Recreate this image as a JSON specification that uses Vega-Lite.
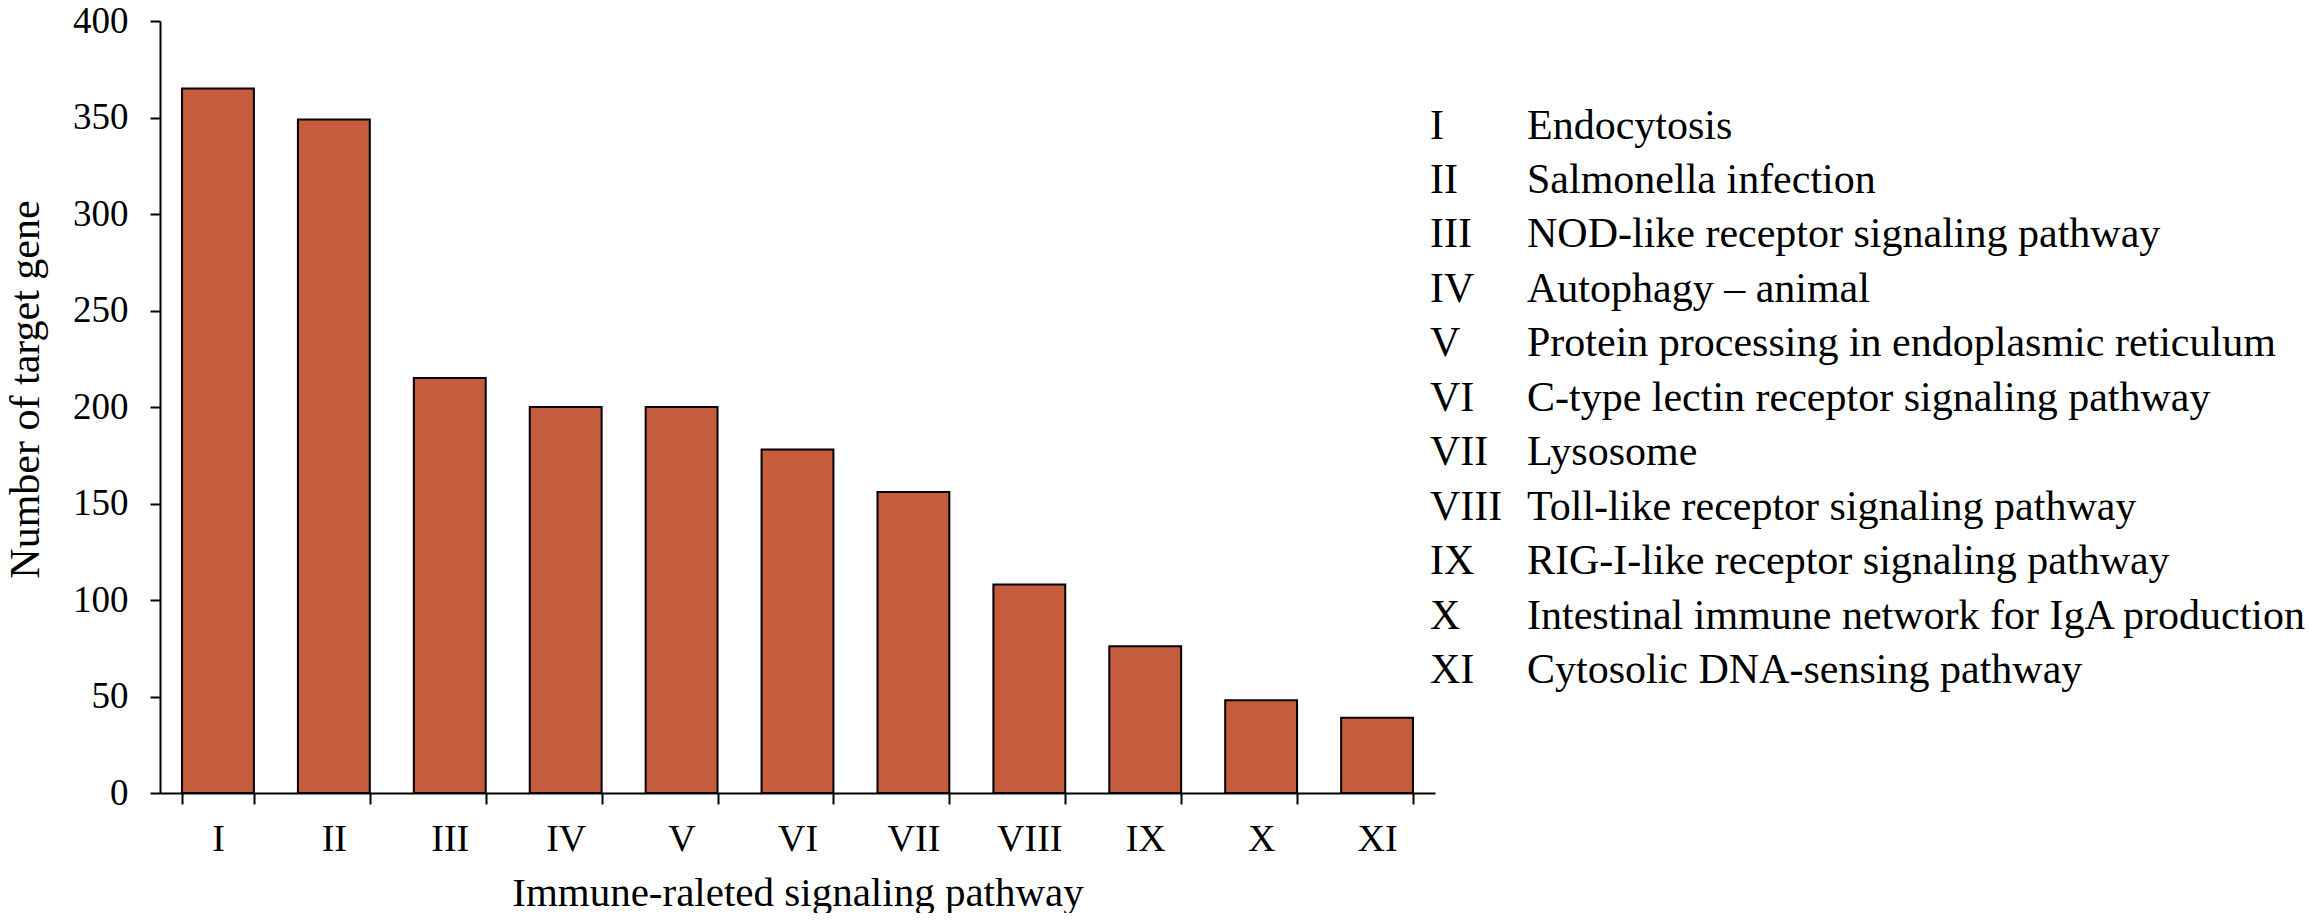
{
  "$schema": "https://vega.github.io/schema/vega-lite/v6.json",
  "padding": {"left": 4, "top": 2, "right": 0, "bottom": 0},
  "background": "white",
  "bounds": "flush",
  "spacing": 0,
  "config": {
    "view": {"stroke": null},
    "font": "Liberation Serif",
    "axis": {
      "labelFont": "Liberation Serif",
      "titleFont": "Liberation Serif",
      "labelColor": "black",
      "titleColor": "black",
      "titleFontWeight": "normal",
      "domainColor": "black",
      "tickColor": "black",
      "domainWidth": 2,
      "tickWidth": 2,
      "grid": false
    }
  },
  "datasets": {
    "pathways": [
      {"code": "I", "name": "Endocytosis", "genes": 365},
      {"code": "II", "name": "Salmonella infection", "genes": 349},
      {"code": "III", "name": "NOD-like receptor signaling pathway", "genes": 215},
      {"code": "IV", "name": "Autophagy – animal", "genes": 200},
      {"code": "V", "name": "Protein processing in endoplasmic reticulum", "genes": 200},
      {"code": "VI", "name": "C-type lectin receptor signaling pathway", "genes": 178},
      {"code": "VII", "name": "Lysosome", "genes": 156},
      {"code": "VIII", "name": "Toll-like receptor signaling pathway", "genes": 108},
      {"code": "IX", "name": "RIG-I-like receptor signaling pathway", "genes": 76},
      {"code": "X", "name": "Intestinal immune network for IgA production", "genes": 48},
      {"code": "XI", "name": "Cytosolic DNA-sensing pathway", "genes": 39}
    ]
  },
  "hconcat": [
    {
      "data": {"name": "pathways"},
      "width": 1275,
      "height": 772,
      "mark": {"type": "bar", "color": "#C55C3E", "stroke": "black", "strokeWidth": 2},
      "encoding": {
        "x": {
          "field": "code",
          "type": "nominal",
          "sort": null,
          "scale": {"paddingInner": 0.38, "paddingOuter": 0.19},
          "axis": {
            "title": "Immune-raleted signaling pathway",
            "titleFontSize": 41,
            "titlePadding": 15,
            "labelFontSize": 38,
            "labelAngle": 0,
            "labelPadding": 16,
            "tickSize": 11,
            "tickBand": "extent"
          }
        },
        "y": {
          "field": "genes",
          "type": "quantitative",
          "scale": {"domain": [0, 400], "nice": false},
          "axis": {
            "title": "Number of target gene",
            "titleFontSize": 42,
            "titlePadding": 25,
            "titleY": 368,
            "labelFontSize": 37,
            "labelPadding": 22,
            "tickSize": 10,
            "values": [0, 50, 100, 150, 200, 250, 300, 350, 400]
          }
        }
      }
    },
    {
      "data": {"name": "pathways"},
      "width": 875,
      "height": 708,
      "encoding": {
        "y": {
          "field": "code",
          "type": "nominal",
          "sort": null,
          "axis": null,
          "scale": {"type": "band", "paddingInner": 0, "paddingOuter": 1, "align": 0.71}
        }
      },
      "layer": [
        {
          "mark": {"type": "text", "align": "left", "baseline": "middle", "fontSize": 42, "font": "Liberation Serif", "color": "black", "dx": -5},
          "encoding": {"x": {"value": 0}, "text": {"field": "code"}}
        },
        {
          "mark": {"type": "text", "align": "left", "baseline": "middle", "fontSize": 42, "font": "Liberation Serif", "color": "black", "dx": 92},
          "encoding": {"x": {"value": 0}, "text": {"field": "name"}}
        }
      ]
    }
  ]
}
